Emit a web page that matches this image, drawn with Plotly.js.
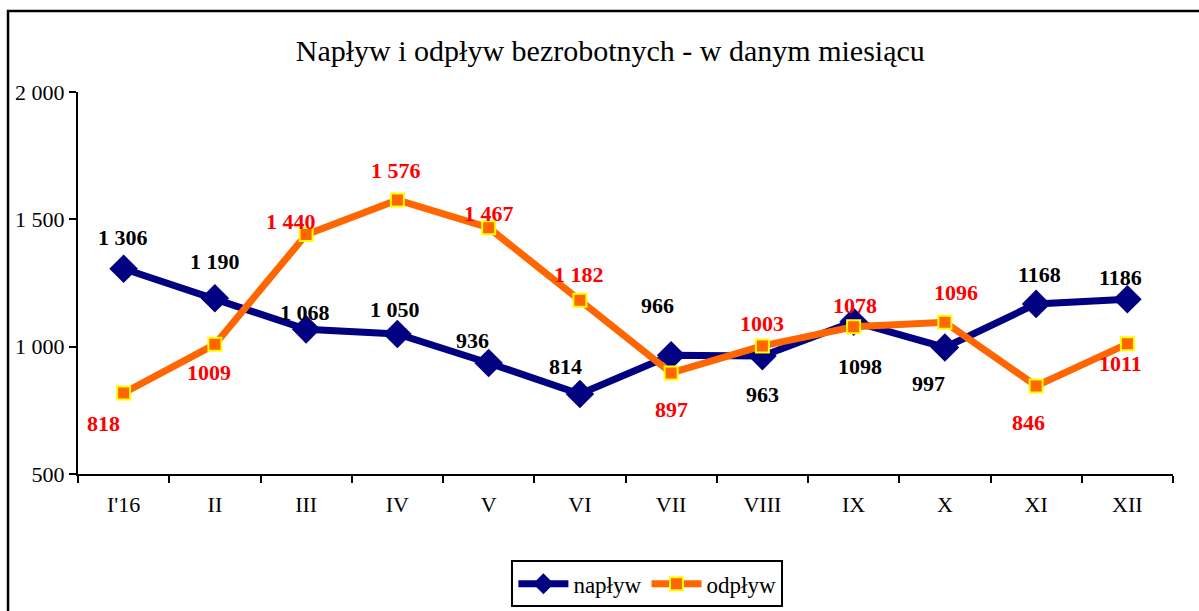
<!DOCTYPE html>
<html><head><meta charset="utf-8">
<script src="https://cdn.plot.ly/plotly-3.0.1.min.js"></script>
<style>html,body{margin:0;padding:0;background:#fff}#chart{width:1199px;height:611px}</style>
</head><body><div id="chart"></div>
<script>
const categories = ["I'16","II","III","IV","V","VI","VII","VIII","IX","X","XI","XII"];
const naplyw = [1306,1190,1068,1050,936,814,966,963,1098,997,1168,1186];
const odplyw = [818,1009,1440,1576,1467,1182,897,1003,1078,1096,846,1011];
const naplywLabels = ["1 306","1 190","1 068","1 050","936","814","966","963","1098","997","1168","1186"];
const odplywLabels = ["818","1009","1 440","1 576","1 467","1 182","897","1003","1078","1096","846","1011"];
const yTicks = [500,1000,1500,2000];
const yTickText = ["500","1 000","1 500","2 000"];

// label offsets in pixels (style only)
const naplywOff = [[-1,-31],[0,-37],[-1,-17],[-2,-24],[-16,-22],[-14,-28],[-14,-50],[0,38],[6,45],[-16,36],[3,-29],[-7,-22]];
const odplywOff = [[-20,30],[-6,28],[-15,-13],[-1,-29],[0,-14],[-1,-26],[0,37],[0,-22],[1,-21],[11,-30],[-8,37],[-7,20]];

const serif = "Liberation Serif, Times New Roman, serif";

const traces = [
  {x: categories, y: naplyw, name: "napływ", type: "scatter", mode: "lines+markers",
   line: {color: "#000080", width: 7},
   marker: {symbol: "diamond", size: 22, color: "#000080", line: {color: "#000080", width: 0}}},
  {x: categories, y: odplyw, name: "odpływ", type: "scatter", mode: "lines+markers",
   line: {color: "#FF6600", width: 7},
   marker: {symbol: "square", size: 13, color: "#FF6600", line: {color: "#FFFF00", width: 2}}}
];

const annotations = [];
categories.forEach((c, i) => {
  annotations.push({x: c, y: naplyw[i], xref: "x", yref: "y", text: "<b>" + naplywLabels[i] + "</b>",
    showarrow: false, xshift: naplywOff[i][0], yshift: -naplywOff[i][1],
    font: {family: serif, size: 22, color: "#000000"}});
  annotations.push({x: c, y: odplyw[i], xref: "x", yref: "y", text: "<b>" + odplywLabels[i] + "</b>",
    showarrow: false, xshift: odplywOff[i][0], yshift: -odplywOff[i][1],
    font: {family: serif, size: 22, color: "#FF0000"}});
});

const layout = {
  width: 1199, height: 611,
  margin: {l: 78, r: 26, t: 92, b: 137},
  paper_bgcolor: "#ffffff", plot_bgcolor: "#ffffff",
  font: {family: serif, size: 22, color: "#000000"},
  title: {text: "Napływ i odpływ bezrobotnych - w danym miesiącu",
    x: 0.509, xref: "container", xanchor: "center", y: 0.918, yref: "container", yanchor: "middle",
    font: {family: serif, size: 30, color: "#000000"}},
  showlegend: true,
  legend: {orientation: "h", x: 0.52, xanchor: "center", xref: "paper", y: 0.083, yref: "container", yanchor: "top",
    bordercolor: "#000000", borderwidth: 2, bgcolor: "#ffffff",
    font: {family: serif, size: 23, color: "#000000"}, itemwidth: 50, tracegroupgap: 0},
  xaxis: {type: "category", range: [-0.5, 11.5], showgrid: false, zeroline: false, showline: true, linecolor: "#000000", linewidth: 2,
    ticks: "outside", tickson: "boundaries", ticklen: 7, tickwidth: 2, tickcolor: "#000000", ticklabelstandoff: 10,
    tickfont: {family: serif, size: 22, color: "#000000"}, fixedrange: true, automargin: false},
  yaxis: {range: [500, 2000], tickvals: yTicks, ticktext: yTickText, showgrid: false, zeroline: false,
    showline: true, linecolor: "#000000", linewidth: 2, ticks: "outside", ticklen: 7, tickwidth: 2,
    tickcolor: "#000000", tickfont: {family: serif, size: 22, color: "#000000"}, fixedrange: true, automargin: false},
  annotations: annotations,
  shapes: [{type: "rect", xref: "paper", yref: "paper", x0: -0.0639, x1: 1.1, y0: -0.6, y1: 1.212,
    line: {color: "#000000", width: 2.5}, fillcolor: "rgba(0,0,0,0)", layer: "below"}]
};

Plotly.newPlot("chart", traces, layout, {displayModeBar: false, staticPlot: true});
</script>
</body></html>
